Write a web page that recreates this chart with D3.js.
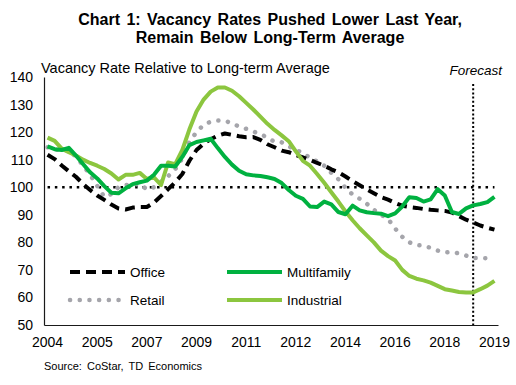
<!DOCTYPE html>
<html>
<head>
<meta charset="utf-8">
<script src="https://cdn.jsdelivr.net/npm/d3@7"></script>
<style>
  body { margin: 0; background: #fff; }
  text { font-family: Arial, "Liberation Sans", sans-serif; fill: #000; }
</style>
</head>
<body>
<div id="chart-container"></div>
<script>
// quarterly, 2004Q1 .. 2019Q4 (64 quarters)
const years = ['2004','2005','2006','2007','2008','2009','2010','2011','2012','2013','2014','2015','2016','2017','2018','2019'];
const quarters = years.flatMap((y) => ['Q1','Q2','Q3','Q4'].map((q) => y + q));

// x labels every 7th quarter, as in the source chart
const tickQuarters = ['2004Q1','2005Q4','2007Q3','2009Q2','2011Q1','2012Q4','2014Q3','2016Q2','2018Q1','2019Q4'];
const yTicks = [50, 60, 70, 80, 90, 100, 110, 120, 130, 140];
const forecastStart = '2019Q1';
const longTermAvg = 100;

const office = [111.8,110.2,107.9,105.8,103.8,101.2,99,97,95.4,93.7,92.3,91.9,92.6,92.8,92.8,94.4,
  96.8,99.3,101.8,104.8,109.6,113.5,115.8,117.4,118.7,119.5,119,118.5,118.1,118.2,117.2,115.6,
  114.5,113.3,112.7,111.7,110.8,109.9,108.8,107.8,106.5,105.4,103.9,102.2,100.7,99.2,97.8,96.4,
  95.5,94.3,93.3,92.8,92.5,92.1,91.8,91.6,91.4,90.8,89.5,88.2,87.2,86.1,85.3,84.6];

const retail = [114.5,113.7,113.3,113.5,111,108,104.5,100.5,96.5,97.5,100,100.8,101,101.2,99.2,100,
  102,104,106.5,110.5,116.5,120,122.6,123.8,124.2,124.1,123.2,122,121.2,120.2,119.3,118,
  116.5,116.3,114.8,113.6,112.4,110.6,109.4,107.8,105.2,102.9,99.8,97.3,95.8,94,91.8,90,
  88.5,85,82,80,79,78.8,78,77,76.3,76.5,76,75.2,74.3,74.3,74.2,74.1];

const multifamily = [114.8,113.8,113.5,114.3,111.5,108.4,105.4,103.2,100.4,98,97.8,99.6,101.1,101.8,102.4,104.5,
  107.8,107.8,107.5,111,115.3,116.4,117,117.6,114.2,111,108.2,106,104.7,104.3,104.1,103.6,
  103,101.5,99,96.9,95.8,93,92.8,94.8,93.8,91,90.2,93.3,91.6,90.9,90.6,90.4,
  89.5,90.5,93,96.4,96.1,94.8,95.6,99.3,97,91,90.3,92.3,93.4,93.9,94.6,96.5];

const industrial = [118,116.8,114,112.7,111.5,110,108.8,107.8,106.6,105,102.8,104.5,104.5,105.2,103,103.6,
  100.8,109,108.4,113.5,121,127.5,131.8,134.7,136.2,136.2,135,133,130.6,128.2,125.6,123,
  120.8,118.8,116.7,113,109.6,107.8,104.8,101.6,98.2,94.8,91.2,88,85.1,82.5,80,77,
  75,73.4,70,67.8,66.8,66.2,65.4,64.2,63,62.5,62,61.8,61.8,63,64.3,66];

const seriesNames = ['Office', 'Retail', 'Multifamily', 'Industrial'];

const chartWidth = 516;
const chartHeight = 385;
const margin = { top: 77, right: 18, bottom: 60, left: 44 };

const styles = {
  Office: { color: '#000000', width: 4, dash: '10,6', cap: 'butt' },
  Retail: { color: '#a5a5ab', width: 4.5, dash: '0.1,9.6', cap: 'round' },
  Multifamily: { color: '#00b140', width: 4, dash: null, cap: 'butt' },
  Industrial: { color: '#8cc63f', width: 4, dash: null, cap: 'butt' }
};

const drawChart = () => {
  const data = { Office: office, Retail: retail, Multifamily: multifamily, Industrial: industrial };

  const svg = d3
    .select('#chart-container')
    .append('svg')
    .attr('width', chartWidth)
    .attr('height', chartHeight);

  // Title
  const title = svg.append('text')
    .attr('x', 270)
    .attr('text-anchor', 'middle')
    .style('font-weight', 'bold')
    .style('font-size', '16px')
    .style('word-spacing', '2px');
  title.append('tspan').attr('x', 270).attr('y', 25).text('Chart 1: Vacancy Rates Pushed Lower Last Year,');
  title.append('tspan').attr('x', 270).attr('y', 43).text('Remain Below Long-Term Average');

  svg.append('text')
    .attr('x', 41)
    .attr('y', 73)
    .style('font-size', '14.5px')
    .text('Vacancy Rate Relative to Long-term Average');

  // Scales
  const xScale = d3.scaleBand()
    .domain(quarters)
    .range([margin.left, chartWidth - margin.right]);
  const xPos = (q) => xScale(q) + xScale.bandwidth() / 2;

  const yScale = d3.scaleLinear()
    .domain([50, 140])
    .range([chartHeight - margin.bottom, margin.top]);

  // Axes
  const xAxis = d3.axisBottom(xScale)
    .tickValues(tickQuarters)
    .tickSize(0)
    .tickPadding(12)
    .tickFormat((q) => q.slice(0, 4));
  const yAxis = d3.axisLeft(yScale)
    .tickValues(yTicks)
    .tickSize(0)
    .tickPadding(11);

  const gx = svg.append('g')
    .attr('id', 'x-axis')
    .attr('transform', `translate(0,${chartHeight - margin.bottom})`)
    .call(xAxis);
  const gy = svg.append('g')
    .attr('id', 'y-axis')
    .attr('transform', `translate(${margin.left},0)`)
    .call(yAxis);

  [gx, gy].forEach((g) => {
    g.select('.domain').attr('stroke', '#1a1a1a').attr('stroke-width', 1.2);
    g.selectAll('text').style('font-size', '14px').attr('fill', '#000');
  });

  // long-term average
  const avgLine = d3.line()
    .x((q) => xPos(q))
    .y(() => yScale(longTermAvg));
  svg.append('path')
    .attr('d', avgLine(quarters))
    .attr('fill', 'none')
    .attr('stroke', '#000')
    .attr('stroke-width', 2.5)
    .attr('stroke-dasharray', '2.5,4.8');

  // forecast marker
  svg.append('line')
    .attr('x1', xPos(forecastStart))
    .attr('x2', xPos(forecastStart))
    .attr('y1', 84)
    .attr('y2', yScale(50))
    .attr('stroke', '#000')
    .attr('stroke-width', 2)
    .attr('stroke-dasharray', '2,2.2');

  svg.append('text')
    .attr('x', 502)
    .attr('y', 75)
    .attr('text-anchor', 'end')
    .style('font-size', '13.5px')
    .style('font-style', 'italic')
    .text('Forecast');

  // Lines
  const line = d3.line()
    .x((d, i) => xPos(quarters[i]))
    .y((d) => yScale(d));

  ['Retail', 'Office', 'Industrial', 'Multifamily'].forEach((name) => {
    const s = styles[name];
    svg.append('path')
      .attr('class', 'series')
      .attr('d', line(data[name]))
      .attr('fill', 'none')
      .attr('stroke', s.color)
      .attr('stroke-width', s.width)
      .attr('stroke-linecap', s.cap)
      .attr('stroke-linejoin', 'round')
      .attr('stroke-dasharray', s.dash);
  });

  // Legend
  const legendPos = {
    Office: [70, 272],
    Retail: [70, 300],
    Multifamily: [227, 272],
    Industrial: [227, 300]
  };
  seriesNames.forEach((name) => {
    const s = styles[name];
    const [lx, ly] = legendPos[name];
    svg.append('line')
      .attr('x1', lx)
      .attr('x2', lx + 55)
      .attr('y1', ly)
      .attr('y2', ly)
      .attr('stroke', s.color)
      .attr('stroke-width', s.width)
      .attr('stroke-linecap', s.cap)
      .attr('stroke-dasharray', s.dash);
    svg.append('text')
      .attr('x', lx + 60)
      .attr('y', ly + 5)
      .style('font-size', '13.5px')
      .text(name);
  });

  // Source
  svg.append('text')
    .attr('x', 44)
    .attr('y', 370)
    .style('font-size', '11px')
    .style('word-spacing', '2px')
    .text('Source: CoStar, TD Economics');
};

window.addEventListener('DOMContentLoaded', () => {
  drawChart();
});
</script>
</body>
</html>
